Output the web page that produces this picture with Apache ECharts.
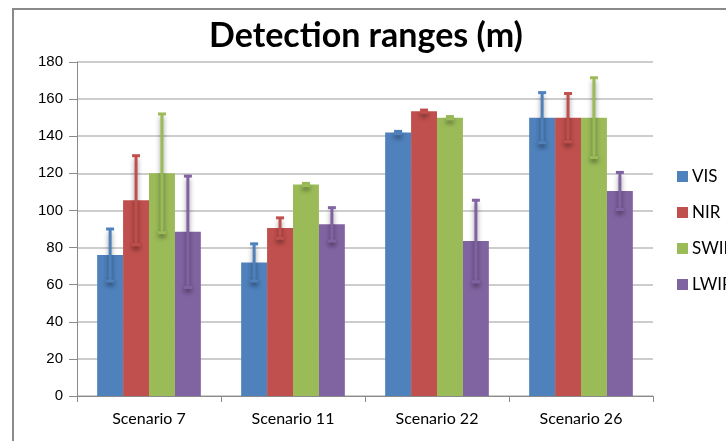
<!DOCTYPE html>
<html>
<head>
<meta charset="utf-8">
<script src="https://cdn.jsdelivr.net/npm/echarts@6/dist/echarts.min.js"></script>
<style>
  html, body { margin: 0; padding: 0; background: #fff; overflow: hidden; }
  .frame {
    position: absolute; left: 12px; top: 8px;
    width: 800px; height: 500px;
    border: 2px solid #8a8a8a;
  }
  #main { position: absolute; left: 0; top: 0; width: 726px; height: 441px; }
</style>
</head>
<body>
<div class="frame"></div>
<div id="main"></div>
<script>
// categories and series
const scenarios = ['Scenario 7', 'Scenario 11', 'Scenario 22', 'Scenario 26']
const bandNames = ['VIS', 'NIR', 'SWIR', 'LWIR']
const bandColors = ['#4F81BD', '#C0504D', '#9BBB59', '#8064A2']
const visValues = [76, 72, 142, 150]
const nirValues = [105.5, 90.5, 153.5, 150]
const swirValues = [120, 114, 150, 150]
const lwirValues = [88.5, 92.5, 83.5, 110.5]
// +/- error for each bar
const visErr = [14, 10, 0.6, 13.5]
const nirErr = [24, 5.5, 0.6, 13]
const swirErr = [32, 0.6, 0.6, 21.5]
const lwirErr = [30, 9, 22, 10]

const values = [visValues, nirValues, swirValues, lwirValues]
const errors = [visErr, nirErr, swirErr, lwirErr]
const catGap = 0.28

let chart = echarts.init(document.getElementById('main'))

let series = []
bandNames.forEach(function (name, i) {
  series.push({
    name: name,
    type: 'bar',
    barGap: 0,
    barCategoryGap: '28%',
    itemStyle: { color: bandColors[i] },
    data: values[i]
  })
})
// error bars drawn over each bar group
bandNames.forEach(function (name, i) {
  let errData = values[i].map(function (v, k) {
    return [k, v - errors[i][k], v + errors[i][k]]
  })
  series.push({
    type: 'custom',
    name: name + ' err',
    z: 5,
    silent: true,
    renderItem: function (params, api) {
      let cat = api.value(0)
      let lo = api.coord([cat, api.value(1)])
      let hi = api.coord([cat, api.value(2)])
      let catW = api.size([1, 0])[0]
      let bw = catW * (1 - catGap) / 4
      let x = lo[0] - catW * (1 - catGap) / 2 + bw * (i + 0.5)
      let half = 4
      let style = { stroke: bandColors[i], lineWidth: 3 }
      let shadow = {
        stroke: bandColors[i], lineWidth: 3,
        shadowBlur: 5, shadowColor: 'rgba(0,0,0,0.45)', shadowOffsetY: 3
      }
      return {
        type: 'group',
        children: [
          { type: 'line', shape: { x1: x, y1: lo[1], x2: x, y2: hi[1] }, style: shadow },
          { type: 'line', shape: { x1: x - half, y1: hi[1], x2: x + half, y2: hi[1] }, style: style },
          { type: 'line', shape: { x1: x - half, y1: lo[1], x2: x + half, y2: lo[1] }, style: shadow }
        ]
      }
    },
    encode: { x: 0, y: [1, 2] },
    data: errData
  })
})

let option = {
  animation: false,
  title: {
    text: 'Detection ranges (m)',
    left: 361,
    textAlign: 'center',
    top: 14,
    textStyle: { fontFamily: 'Lato', fontWeight: 'bold', fontSize: 34, color: '#000' }
  },
  legend: {
    data: bandNames,
    orient: 'vertical',
    left: 672,
    top: 163,
    itemWidth: 11,
    itemHeight: 11,
    itemGap: 19,
    icon: 'rect',
    textStyle: { fontFamily: 'Lato', fontSize: 17, color: '#000', padding: [0, 0, 0, -1] }
  },
  grid: { left: 77, right: 73, top: 62, bottom: 45 },
  xAxis: {
    type: 'category',
    data: scenarios,
    axisLine: { lineStyle: { color: '#8a8a8a', width: 1 } },
    axisTick: { show: true, length: 6, lineStyle: { color: '#8a8a8a' } },
    axisLabel: { fontFamily: 'Lato', fontSize: 16, color: '#000', margin: 15 }
  },
  yAxis: {
    type: 'value',
    min: 0,
    max: 180,
    interval: 20,
    axisLine: { show: true, lineStyle: { color: '#8a8a8a', width: 1 } },
    axisTick: { show: true, length: 8, lineStyle: { color: '#8a8a8a' } },
    axisLabel: { fontFamily: 'Liberation Sans', fontSize: 15, color: '#000', margin: 14 },
    splitLine: { lineStyle: { color: '#bdbdbd', width: 1.5 } }
  },
  series: series
}

chart.setOption(option)
</script>
</body>
</html>
